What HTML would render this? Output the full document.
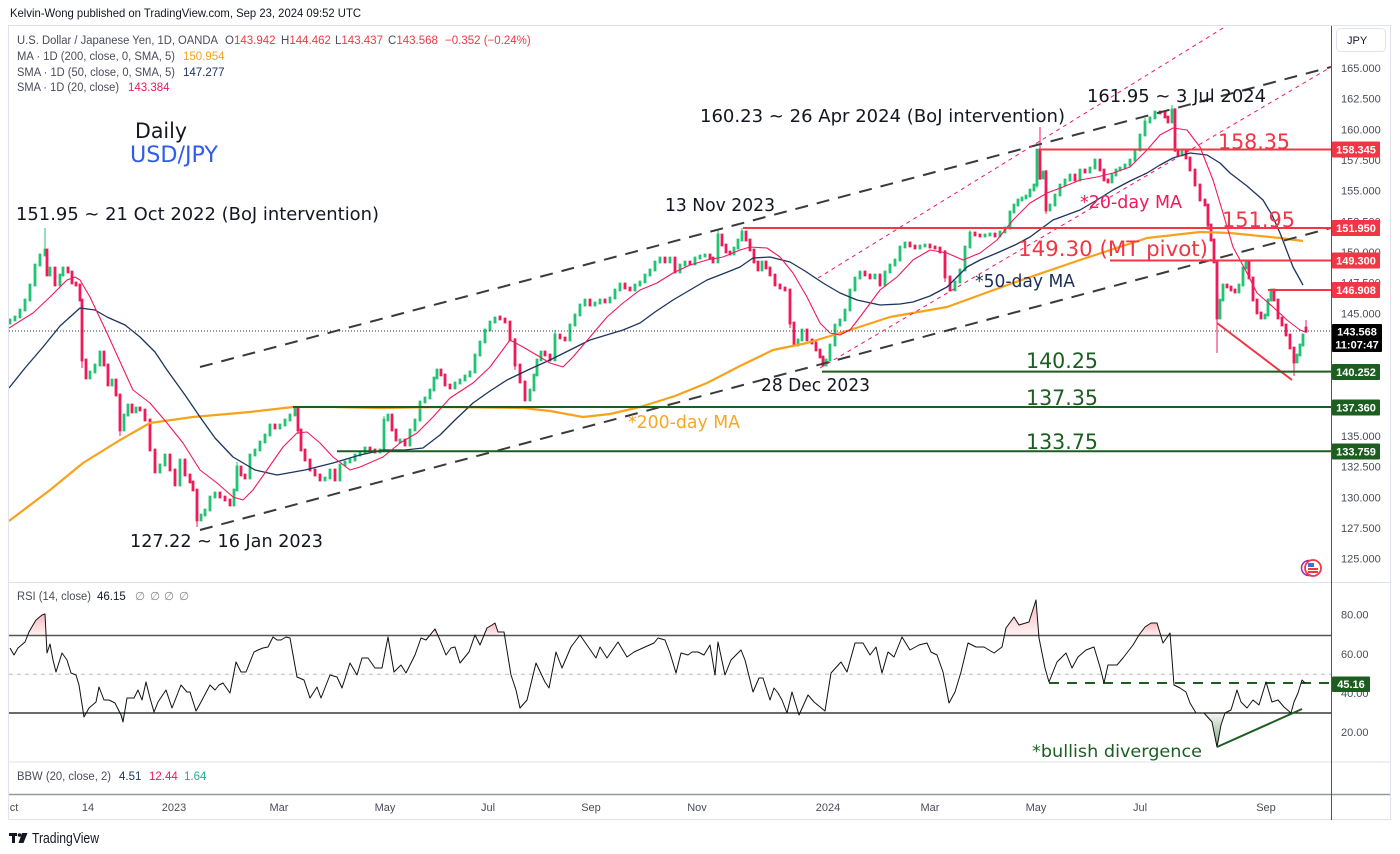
<!DOCTYPE html>
<html><head><meta charset="utf-8">
<style>
html,body{margin:0;padding:0;background:#fff;width:1400px;height:854px;overflow:hidden;}
svg{display:block;font-family:"Liberation Sans",Arial,sans-serif;}
.ann{font-family:"DejaVu Sans","Liberation Sans",sans-serif;}
</style></head>
<body>
<svg width="1400" height="854" viewBox="0 0 1400 854" xmlns="http://www.w3.org/2000/svg">
<defs>
 <clipPath id="main"><rect x="9" y="26" width="1322" height="556"/></clipPath>
 <clipPath id="rsiClip"><rect x="9" y="583" width="1322" height="178"/></clipPath>
 <linearGradient id="gOB" x1="0" y1="0" x2="0" y2="1"><stop offset="0" stop-color="#f23645" stop-opacity="0.35"/><stop offset="1" stop-color="#f23645" stop-opacity="0.06"/></linearGradient>
 <linearGradient id="gOS" x1="0" y1="0" x2="0" y2="1"><stop offset="0" stop-color="#1b5e20" stop-opacity="0.05"/><stop offset="1" stop-color="#1b5e20" stop-opacity="0.55"/></linearGradient>
</defs>
<rect width="1400" height="854" fill="#fff"/>
<text x="10" y="17" font-size="12" fill="#131722" textLength="351" lengthAdjust="spacingAndGlyphs">Kelvin-Wong published on TradingView.com, Sep 23, 2024 09:52 UTC</text>
<rect x="8.5" y="25.5" width="1382" height="794" fill="none" stroke="#e0e3eb" stroke-width="1"/>

<g clip-path="url(#main)">
 <!-- candles: wicks -->
 <path fill="none" stroke="#22c373" stroke-width="1" d="M45 228V255M1172 105V122M718 230V262M742 228V240M1037 150V188M384 416V450M555 330V360M970 230V247M237 462V490M1145 118V135"/>
 <path fill="none" stroke="#f0195a" stroke-width="1" d="M1040 127V180M1217 262V353M197 490V527M1294 348V376M82 300V368M1306 320V333M1175 108V152M1046 170V214M120 395V436M790 290V328M945 250V282M298 406V434M515 338V370M1208 205V230"/>
 <!-- candles: green bodies -->
 <path fill="none" stroke="#22c373" stroke-width="2.8" stroke-linecap="square" d="M10 323V320M15 320V317M20 317V310M25 310V300M30 300V285M35 285V265M40 265V255M45 255V250M50 275V268M60 285V275M63 275V268M90 378V372M95 372V365M100 365V352M112 385V380M124 430V415M128 415V405M136 412V408M160 472V465M165 465V455M180 485V460M201 520V515M205 515V510M210 510V497M215 497V493M234 505V490M237 490V467M250 478V455M255 455V450M260 450V442M265 442V435M270 435V425M280 428V425M285 425V420M290 420V415M295 415V408M325 480V478M330 478V470M340 480V465M345 465V462M350 462V460M355 460V455M360 455V452M365 452V448M380 452V450M384 450V420M388 420V415M400 442V440M410 445V430M415 430V420M420 420V402M425 402V398M430 398V390M434 390V378M437 378V370M455 388V383M460 383V380M465 380V376M470 376V372M475 372V355M480 355V342M485 342V330M490 330V322M495 322V318M530 400V390M534 390V375M537 375V360M541 360V352M555 360V335M570 340V325M575 325V315M580 315V305M585 305V300M595 305V303M600 303V300M610 302V298M615 298V290M620 290V284M635 290V285M640 285V282M645 282V275M650 275V270M655 270V262M660 262V258M670 262V258M680 272V265M685 265V262M695 264V258M700 258V256M705 256V255M718 262V235M734 254V248M738 248V240M742 240V232M762 270V262M798 345V340M802 340V330M826 365V360M830 360V345M835 345V325M840 325V320M845 320V310M850 310V290M855 290V278M860 278V272M875 278V275M885 285V272M890 272V265M895 265V260M900 260V247M905 247V243M920 248V246M925 246V245M955 290V282M960 282V270M965 270V247M970 247V233M985 236V235M990 235V234M1000 236V232M1005 232V228M1010 228V212M1014 212V205M1018 205V200M1022 200V198M1026 198V196M1030 196V190M1034 190V185M1037 185V150M1043 178V172M1050 210V205M1055 205V195M1060 195V185M1065 185V180M1070 180V175M1080 180V170M1090 172V168M1095 168V160M1112 182V175M1116 175V170M1120 170V168M1125 168V165M1130 165V160M1135 160V150M1140 150V135M1145 135V122M1150 122V118M1155 118V112M1172 122V110M1182 155V150M1220 318V300M1223 300V285M1239 292V285M1243 285V268M1246 268V262M1265 318V315M1268 315V300M1271 300V290M1297 362V355M1300 355V345M1303 345V335"/>
 <!-- candles: red bodies -->
 <path fill="none" stroke="#f0195a" stroke-width="2.8" stroke-linecap="square" d="M47 250V275M55 268V285M68 268V272M72 272V283M76 283V285M80 285V300M82 300V360M86 360V378M104 352V365M108 365V385M116 380V395M120 395V430M132 405V412M140 408V410M145 410V420M150 420V450M155 450V472M170 455V470M175 470V485M185 460V475M190 475V482M193 482V490M197 490V520M220 493V497M225 497V500M230 500V505M241 467V475M245 475V478M275 425V428M298 408V430M301 430V450M305 450V460M310 460V470M315 470V475M320 475V480M335 470V480M370 448V450M375 450V452M392 415V430M396 430V440M405 440V445M441 370V375M445 375V385M450 385V388M500 317V319M505 319V322M510 322V340M515 340V365M520 365V382M525 382V400M545 352V355M550 355V360M560 335V338M565 338V340M590 300V305M605 300V302M625 284V288M630 288V290M665 258V262M675 258V272M690 262V264M710 255V258M713 258V262M722 235V245M726 245V252M730 252V254M746 232V240M750 240V250M754 250V262M758 262V270M766 262V268M770 268V275M775 275V285M780 285V288M785 288V290M790 290V323M794 323V345M807 330V340M812 340V343M816 343V350M820 350V357M823 357V365M865 272V275M870 275V278M880 275V285M910 243V246M915 246V248M930 245V247M935 247V248M940 248V252M945 252V277M950 277V290M975 233V235M980 235V236M995 234V236M1040 150V178M1046 172V210M1075 175V180M1085 170V172M1100 160V170M1104 170V180M1108 180V182M1160 112V113M1165 113V117M1168 117V122M1175 110V150M1178 150V155M1186 150V158M1190 158V170M1195 170V185M1200 185V200M1205 200V205M1208 205V225M1211 225V240M1214 240V262M1217 262V318M1227 285V287M1231 287V290M1235 290V292M1249 262V278M1253 278V300M1257 300V313M1261 313V318M1274 290V300M1278 300V318M1282 318V325M1286 325V335M1290 335V348M1294 348V362M1306 328V331"/>
 <!-- moving averages -->
 <polyline fill="none" stroke="#f7a21b" stroke-width="2.2" stroke-linejoin="round" points="9,521 50,490 83,463 120,440 150,423 193,417 250,412 293,407 333,407 380,408 440,407 523,408 550,411 583,417 610,414 640,407 675,396 707,383 740,366 773,350 807,343 850,330 890,317 947,307 1013,283 1080,260 1147,238 1200,232 1230,233 1280,238 1303,241"/>
 <polyline fill="none" stroke="#1c3461" stroke-width="1.3" stroke-linejoin="round" points="9,388 25,368 43,347 60,326 80,308 95,310 107,317 125,325 140,337 155,352 167,370 185,395 200,417 215,438 233,457 255,470 277,475 305,470 333,463 360,455 383,450 405,450 423,448 440,435 455,420 473,403 490,391 507,380 530,369 550,360 570,350 590,340 623,330 640,323 655,312 673,300 690,290 707,280 725,273 740,267 753,258 770,257 790,262 805,271 823,283 840,293 857,300 880,305 900,304 913,302 930,296 947,287 967,267 980,260 997,253 1015,245 1030,237 1053,220 1080,210 1097,200 1113,190 1130,181 1147,173 1160,165 1173,158 1190,153 1207,155 1220,163 1230,173 1247,186 1263,200 1272,215 1280,233 1293,267 1303,285"/>
 <polyline fill="none" stroke="#f0195a" stroke-width="1.1" stroke-linejoin="round" points="9,328 33,313 50,297 67,280 75,277 80,280 90,297 107,333 127,377 133,390 150,403 167,423 183,443 200,470 217,483 233,497 243,500 253,490 267,470 283,447 297,433 307,432 320,443 333,457 350,470 360,467 383,457 400,443 417,433 433,417 450,398 473,383 490,367 510,340 523,347 540,357 550,363 563,367 573,357 590,337 607,317 623,303 640,290 657,283 673,273 690,265 707,260 723,257 740,250 750,247 767,248 780,257 793,273 807,297 820,323 830,333 840,335 850,330 863,313 880,290 897,277 913,260 930,250 947,253 963,260 980,253 997,240 1013,220 1030,203 1047,193 1063,187 1080,180 1097,177 1113,173 1130,167 1147,150 1160,135 1173,128 1187,130 1200,147 1213,180 1223,213 1233,247 1247,273 1257,293 1273,307 1287,320 1300,330 1305,332"/>
 <!-- current price dotted -->
 <line x1="9" y1="331" x2="1331" y2="331" stroke="#333" stroke-width="1" stroke-dasharray="1,2"/>
 <!-- channel dashed -->
 <line x1="200" y1="367" x2="1331" y2="67" stroke="#3a3a3a" stroke-width="2" stroke-dasharray="13,9"/>
 <line x1="200" y1="530" x2="1331" y2="228" stroke="#3a3a3a" stroke-width="2" stroke-dasharray="13,9"/>
 <line x1="818" y1="278" x2="1228" y2="25" stroke="#f0195a" stroke-width="1" stroke-dasharray="4,4"/>
 <line x1="820" y1="368" x2="1331" y2="67" stroke="#f0195a" stroke-width="1" stroke-dasharray="4,4"/>
 <!-- red horizontals -->
 <line x1="1040" y1="149.5" x2="1331" y2="149.5" stroke="#f23645" stroke-width="2"/>
 <line x1="743" y1="228" x2="1331" y2="228" stroke="#f23645" stroke-width="2"/>
 <line x1="1110" y1="260.5" x2="1331" y2="260.5" stroke="#f23645" stroke-width="2"/>
 <line x1="1268" y1="290" x2="1331" y2="290" stroke="#f23645" stroke-width="2"/>
 <line x1="1217" y1="323" x2="1292" y2="380" stroke="#f23645" stroke-width="2"/>
 <!-- green horizontals -->
 <line x1="822" y1="371.6" x2="1331" y2="371.6" stroke="#1b5e20" stroke-width="2"/>
 <line x1="293" y1="407" x2="1331" y2="407" stroke="#1b5e20" stroke-width="2"/>
 <line x1="337" y1="451.2" x2="1331" y2="451.2" stroke="#1b5e20" stroke-width="2"/>
 <!-- annotations -->
 <g class="ann">
  <text x="135" y="138" font-size="21" fill="#131722" textLength="52" lengthAdjust="spacingAndGlyphs">Daily</text>
  <text x="130" y="162" font-size="22" fill="#2f5cf0" textLength="88" lengthAdjust="spacingAndGlyphs">USD/JPY</text>
  <text x="16" y="220" font-size="18" fill="#131722" textLength="363" lengthAdjust="spacingAndGlyphs">151.95 ~ 21 Oct 2022 (BoJ intervention)</text>
  <text x="130" y="547" font-size="18" fill="#131722" textLength="193" lengthAdjust="spacingAndGlyphs">127.22 ~ 16 Jan 2023</text>
  <text x="665" y="211" font-size="18" fill="#131722" textLength="110" lengthAdjust="spacingAndGlyphs">13 Nov 2023</text>
  <text x="761" y="391" font-size="18" fill="#131722" textLength="109" lengthAdjust="spacingAndGlyphs">28 Dec 2023</text>
  <text x="628" y="428" font-size="18" fill="#f7a823" textLength="112" lengthAdjust="spacingAndGlyphs">*200-day MA</text>
  <text x="975" y="287" font-size="18" fill="#1c2e5a" textLength="100" lengthAdjust="spacingAndGlyphs">*50-day MA</text>
  <text x="1080" y="208" font-size="18" fill="#f0195a" textLength="102" lengthAdjust="spacingAndGlyphs">*20-day MA</text>
  <text x="700" y="122" font-size="18" fill="#131722" textLength="365" lengthAdjust="spacingAndGlyphs">160.23 ~ 26 Apr 2024 (BoJ intervention)</text>
  <text x="1087" y="102" font-size="18" fill="#131722" textLength="179" lengthAdjust="spacingAndGlyphs">161.95 ~ 3 Jul 2024</text>
  <text x="1218" y="149" font-size="21" fill="#f23645" textLength="72" lengthAdjust="spacingAndGlyphs">158.35</text>
  <text x="1222" y="227" font-size="21" fill="#f23645" textLength="73" lengthAdjust="spacingAndGlyphs">151.95</text>
  <text x="1018" y="256" font-size="21" fill="#f23645" textLength="190" lengthAdjust="spacingAndGlyphs">149.30 (MT pivot)</text>
  <text x="1026" y="368" font-size="21" fill="#1b5e20" textLength="72" lengthAdjust="spacingAndGlyphs">140.25</text>
  <text x="1026" y="405" font-size="21" fill="#1b5e20" textLength="72" lengthAdjust="spacingAndGlyphs">137.35</text>
  <text x="1026" y="449" font-size="21" fill="#1b5e20" textLength="72" lengthAdjust="spacingAndGlyphs">133.75</text>
 </g>
</g>

<!-- legend -->
<g font-size="11.5" fill="#4a4d57">
 <text x="17" y="44"><tspan textLength="201" lengthAdjust="spacingAndGlyphs">U.S. Dollar / Japanese Yen, 1D, OANDA</tspan><tspan x="225">O</tspan><tspan fill="#f23645">143.942</tspan><tspan x="281">H</tspan><tspan fill="#f23645">144.462</tspan><tspan x="335">L</tspan><tspan fill="#f23645">143.437</tspan><tspan x="388">C</tspan><tspan fill="#f23645">143.568</tspan><tspan x="445" fill="#f23645">−0.352 (−0.24%)</tspan></text>
 <text x="17" y="60"><tspan textLength="158" lengthAdjust="spacingAndGlyphs">MA · 1D (200, close, 0, SMA, 5)</tspan><tspan x="183" fill="#f7a21b">150.954</tspan></text>
 <text x="17" y="76"><tspan textLength="158" lengthAdjust="spacingAndGlyphs">SMA · 1D (50, close, 0, SMA, 5)</tspan><tspan x="183" fill="#1c3461">147.277</tspan></text>
 <text x="17" y="91"><tspan textLength="102" lengthAdjust="spacingAndGlyphs">SMA · 1D (20, close)</tspan><tspan x="128" fill="#f0195a">143.384</tspan></text>
</g>

<!-- flag icon -->
<circle cx="1309" cy="568" r="7.5" fill="#fff" stroke="#9c27b0" stroke-width="1.5"/>
<circle cx="1313" cy="568" r="8" fill="#fff" stroke="#f23645" stroke-width="1.8"/>
<rect x="1308" y="563" width="6" height="4" fill="#3f6fd8"/>
<rect x="1308" y="568" width="10" height="2" fill="#f23645"/>
<rect x="1308" y="571" width="10" height="2" fill="#f23645"/>

<!-- separators / axes -->
<line x1="9" y1="582.5" x2="1390" y2="582.5" stroke="#e0e3eb" stroke-width="1"/>
<line x1="9" y1="762" x2="1390" y2="762" stroke="#e0e3eb" stroke-width="1"/>
<line x1="9" y1="794.5" x2="1390" y2="794.5" stroke="#9598a1" stroke-width="1.5"/>
<line x1="1331.5" y1="26" x2="1331.5" y2="820" stroke="#50535e" stroke-width="1"/>

<!-- right axis -->
<rect x="1336.5" y="28.5" width="49" height="23" rx="4" fill="#fff" stroke="#e0e3eb"/>
<text x="1347" y="44" font-size="11" fill="#131722">JPY</text>
<g font-size="11" fill="#4a4d57">
 <text x="1341" y="72">165.000</text>
 <text x="1341" y="102.6">162.500</text>
 <text x="1341" y="133.3">160.000</text>
 <text x="1341" y="164">157.500</text>
 <text x="1341" y="194.6">155.000</text>
 <text x="1341" y="225.3">152.500</text>
 <text x="1341" y="256">150.000</text>
 <text x="1341" y="286.6">147.500</text>
 <text x="1341" y="317.3">145.000</text>
 <text x="1341" y="440">135.000</text>
 <text x="1341" y="470.6">132.500</text>
 <text x="1341" y="501.3">130.000</text>
 <text x="1341" y="532">127.500</text>
 <text x="1341" y="562.7">125.000</text>
</g>
<g font-size="11" font-weight="bold" fill="#fff" text-anchor="middle">
 <rect x="1332" y="141.5" width="48" height="16" rx="1" fill="#f23645"/><text x="1356" y="153.5">158.345</text>
 <rect x="1332" y="220" width="48" height="16" rx="1" fill="#f23645"/><text x="1356" y="232">151.950</text>
 <rect x="1332" y="252.5" width="48" height="16" rx="1" fill="#f23645"/><text x="1356" y="264.5">149.300</text>
 <rect x="1332" y="282" width="48" height="16" rx="1" fill="#f23645"/><text x="1356" y="294">146.908</text>
 <rect x="1332" y="324" width="50" height="28" rx="1" fill="#000"/><text x="1357" y="335.5">143.568</text><text x="1357" y="348.5">11:07:47</text>
 <rect x="1332" y="364" width="48" height="16" rx="1" fill="#1b5e20"/><text x="1356" y="376">140.252</text>
 <rect x="1332" y="399.5" width="48" height="16" rx="1" fill="#1b5e20"/><text x="1356" y="411.5">137.360</text>
 <rect x="1332" y="443.5" width="48" height="16" rx="1" fill="#1b5e20"/><text x="1356" y="455.5">133.759</text>
</g>

<!-- RSI panel -->
<text x="17" y="600" font-size="11.5" fill="#4a4d57"><tspan textLength="74" lengthAdjust="spacingAndGlyphs">RSI (14, close)</tspan><tspan x="97" fill="#131722">46.15</tspan><tspan x="135" fill="#888">∅</tspan><tspan x="150" fill="#888">∅</tspan><tspan x="164" fill="#888">∅</tspan><tspan x="179" fill="#888">∅</tspan></text>
<g clip-path="url(#rsiClip)">
 <line x1="9" y1="674.3" x2="1331" y2="674.3" stroke="#b8bac0" stroke-width="1" stroke-dasharray="4,4"/>
 <!-- overbought fills -->
 <g fill="url(#gOB)">
  <polygon points="28,635.5 29,632 33,625 36,620 42,615 45,614 46.5,635.5"/>
  <polygon points="433,635.5 435,629 438,635.5"/>
  <polygon points="484,635.5 487,628 492,625 495,623 498,632 499,635.5"/>
  <polygon points="1004,635.5 1006,628 1014,617 1019,625 1029,622 1036,600 1038.5,635.5"/>
  <polygon points="1139,635.5 1145,627 1151,623 1157,623 1161,635.5"/>
 </g>
 <!-- oversold fills -->
 <g fill="url(#gOS)">
  <polygon points="83,713 84,717 86,713"/>
  <polygon points="120,713 121,715 123,722 125,713"/>
  <polygon points="797,713 799,715 801,713"/>
  <polygon points="1196,713 1204,713 1212,722 1217,747 1221,725 1225,713"/>
 </g>
 <line x1="9" y1="635.5" x2="1331" y2="635.5" stroke="#555" stroke-width="1.6"/>
 <line x1="9" y1="713" x2="1331" y2="713" stroke="#111" stroke-width="1.2"/>
 <line x1="1049" y1="683" x2="1331" y2="683" stroke="#1b5e20" stroke-width="2" stroke-dasharray="10,8"/>
 <polyline fill="none" stroke="#111" stroke-width="1" stroke-linejoin="round" points="10,648 14,655 18,648 25,642 29,632 33,625 36,620 42,615 45,614 47,653 50,644 53,660 56,672 62,653 67,660 71,673 76,675 79,685 84,717 89,708 96,702 99,687 104,700 109,700 115,703 121,715 123,722 127,698 134,698 138,690 142,700 146,682 150,698 154,712 158,702 166,690 172,708 181,685 187,692 190,692 196,711 201,702 210,685 215,690 219,685 223,683 230,693 236,662 241,672 246,672 254,652 258,650 263,648 268,647 273,637 277,640 281,640 286,637 290,638 297,677 304,680 310,698 317,687 321,698 330,675 337,677 342,688 350,663 357,675 362,658 368,658 375,668 382,668 388,637 394,672 401,665 406,673 415,655 421,638 426,640 435,629 440,640 446,655 451,648 455,647 460,663 469,652 475,635 480,645 487,628 492,625 495,623 498,632 504,632 511,675 516,690 520,708 527,700 536,663 545,682 549,688 556,652 562,668 571,647 580,635 589,648 596,658 600,647 607,658 618,642 627,657 634,652 645,647 654,643 658,638 665,640 670,653 676,673 681,653 688,655 692,652 698,652 704,655 710,645 715,675 718,642 725,675 731,660 741,650 745,660 753,692 759,678 763,678 770,700 774,688 778,693 782,700 787,713 792,692 799,715 808,695 814,702 825,711 831,673 841,662 847,672 855,643 863,643 870,655 876,647 882,673 888,652 894,657 902,637 910,650 919,645 927,643 931,652 937,655 943,672 949,703 955,692 961,672 968,643 976,647 984,647 994,653 1002,647 1006,628 1014,617 1019,625 1029,622 1036,600 1039,638 1045,668 1049,682 1057,662 1066,653 1072,668 1078,657 1086,650 1094,647 1100,667 1104,683 1108,665 1117,665 1123,658 1133,645 1139,635 1145,627 1151,623 1157,623 1163,643 1170,633 1174,685 1180,688 1186,692 1190,703 1196,713 1204,713 1212,722 1217,747 1221,725 1225,713 1231,710 1237,690 1241,702 1247,708 1253,700 1259,705 1266,682 1272,702 1278,700 1284,707 1291,713 1294,702 1298,693 1302,680 1305,683"/>
 <line x1="1217" y1="747" x2="1302" y2="709" stroke="#1b5e20" stroke-width="2"/>
</g>
<text class="ann" x="1032" y="757" font-size="17" fill="#1b5e20" textLength="170" lengthAdjust="spacingAndGlyphs">*bullish divergence</text>
<g font-size="11" fill="#4a4d57">
 <text x="1341" y="618.7">80.00</text>
 <text x="1341" y="658">60.00</text>
 <text x="1341" y="697">40.00</text>
 <text x="1341" y="736">20.00</text>
</g>
<rect x="1332" y="676.5" width="38" height="15.5" rx="1" fill="#1b5e20"/>
<text x="1351" y="688" font-size="11" font-weight="bold" fill="#fff" text-anchor="middle">45.16</text>

<!-- BBW -->
<text x="17" y="780" font-size="11.5" fill="#4a4d57"><tspan textLength="94" lengthAdjust="spacingAndGlyphs">BBW (20, close, 2)</tspan><tspan x="119" fill="#1c3461">4.51</tspan><tspan x="149" fill="#f0195a">12.44</tspan><tspan x="184" fill="#22ab94">1.64</tspan></text>

<!-- time axis -->
<g font-size="11" fill="#4a4d57" text-anchor="middle">
 <text x="14" y="811">ct</text>
 <text x="88" y="811">14</text>
 <text x="174" y="811">2023</text>
 <text x="279" y="811">Mar</text>
 <text x="385" y="811">May</text>
 <text x="488" y="811">Jul</text>
 <text x="591" y="811">Sep</text>
 <text x="697" y="811">Nov</text>
 <text x="828" y="811">2024</text>
 <text x="930" y="811">Mar</text>
 <text x="1036" y="811">May</text>
 <text x="1140" y="811">Jul</text>
 <text x="1266" y="811">Sep</text>
</g>

<!-- TradingView logo -->
<g fill="#131722">
 <rect x="9" y="833" width="8" height="3"/>
 <rect x="12" y="833" width="3" height="10"/>
 <circle cx="19.5" cy="835" r="1.8"/>
 <polygon points="22,833 27.5,833 23.5,843 18.5,843"/>
</g>
<text x="32" y="843" font-size="15" fill="#131722" textLength="67" lengthAdjust="spacingAndGlyphs">TradingView</text>
</svg>
</body></html>
